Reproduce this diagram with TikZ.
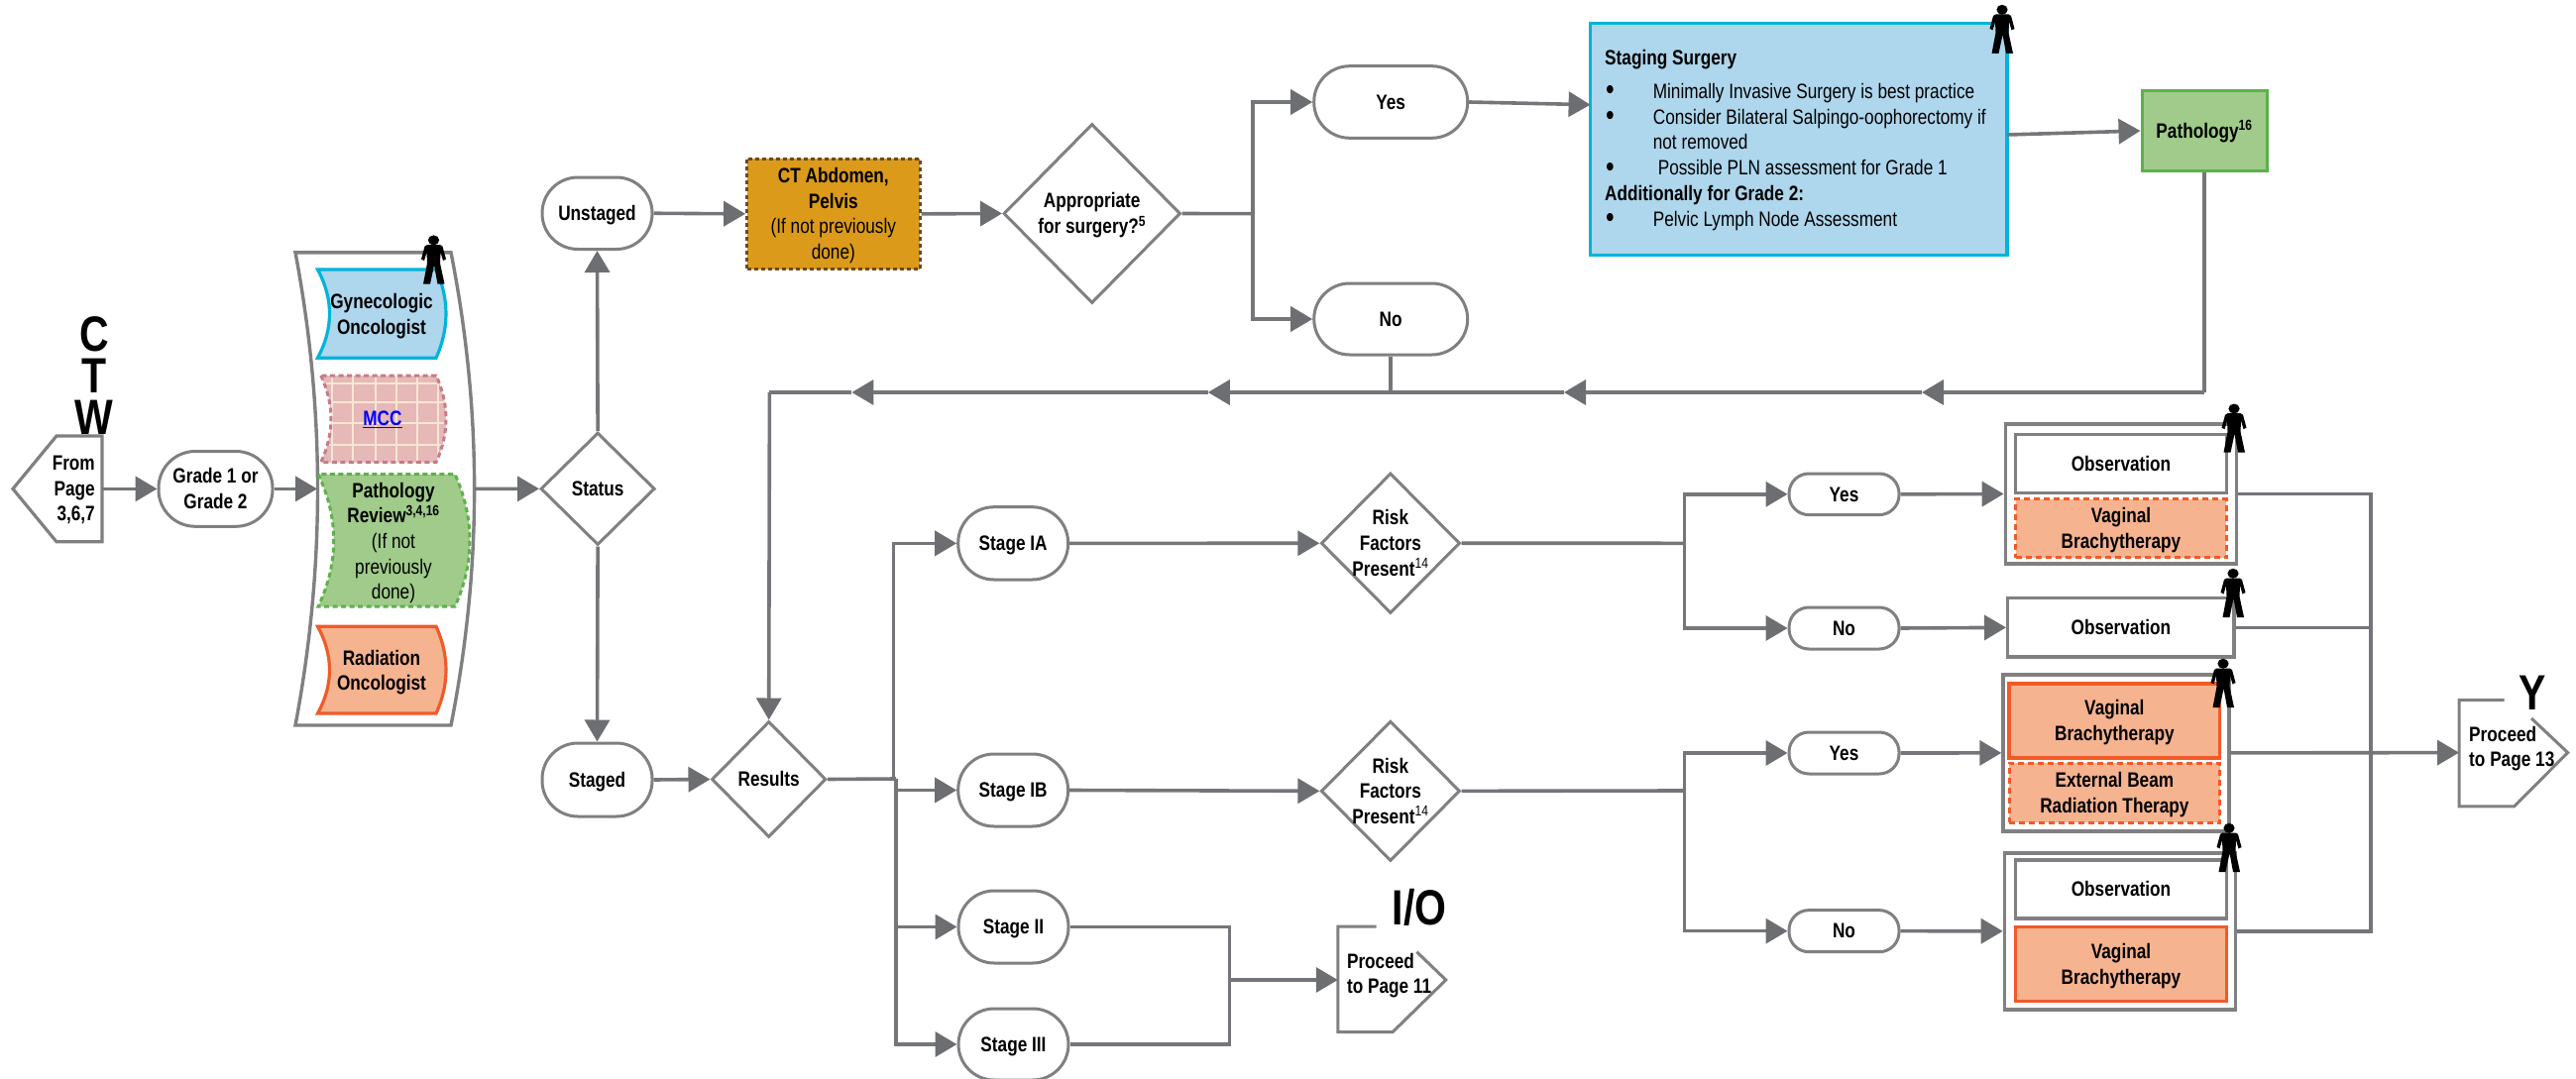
\documentclass[tikz,border=0pt]{standalone}
\usepackage{fontspec}
\setmainfont{Liberation Sans}[FakeStretch=0.82]
\usetikzlibrary{arrows.meta,shapes.geometric}
\definecolor{lineg}{HTML}{75767A}
\definecolor{tipg}{HTML}{6D6E71}
\definecolor{edgeg}{HTML}{808083}
\definecolor{bluef}{HTML}{AED6EC}
\definecolor{blued}{HTML}{00B4DA}
\definecolor{greenf}{HTML}{A0CB8A}
\definecolor{greend}{HTML}{5DB14B}
\definecolor{orangef}{HTML}{F6B38F}
\definecolor{oranged}{HTML}{F15A29}
\definecolor{pinkf}{HTML}{E6B8B7}
\definecolor{pinkd}{HTML}{C77B8A}
\definecolor{creaml}{HTML}{F8E6D4}
\definecolor{ctf}{HTML}{DC9A1B}
\definecolor{ctd}{HTML}{6A4A1F}
\newcommand{\ztext}[1]{\makebox[0pt]{\smash{\raisebox{-0.35em}{\begin{tabular}{@{}c@{}}#1\end{tabular}}}}}
\newcommand{\mkbox}[7]{%
  \pgfmathsetmacro\mkcx{(#3+#5)/2}\pgfmathsetmacro\mkcy{(#4+#6)/2}%
  \pgfmathsetmacro\mkw{#5-#3}\pgfmathsetmacro\mkh{#6-#4}%
  \node[#2,minimum width=\mkw pt,minimum height=\mkh pt] (#1) at (\mkcx,\mkcy) {\ztext{#7}};}
\newcommand{\bul}{\makebox[48.6pt][l]{\hspace*{1pt}{\fontsize{30}{25.8}\selectfont\raisebox{-1.5pt}{•}}}}
\tikzset{
  x=1pt,y=-1pt,
  txt/.style={font=\fontsize{21}{25.6}\selectfont\bfseries,align=center,inner sep=0pt,text=black},
  bigletter/.style={font=\fontsize{50}{41.8}\selectfont\bfseries,align=center,inner sep=0pt,text=black},
  pill/.style={txt,draw=edgeg,fill=white,line width=3pt,rectangle},
  pill36/.style={pill,rounded corners=36pt},
  pill20/.style={pill,rounded corners=20pt},
  dia/.style={txt,draw=edgeg,fill=white,line width=3pt,diamond,aspect=1},
  plain/.style={txt,draw=edgeg,fill=white,line width=3.4pt,rectangle},
  orangesolid/.style={txt,draw=oranged,fill=orangef,line width=3.2pt,rectangle},
  orangedash/.style={txt,draw=oranged,fill=orangef,line width=3pt,rectangle,dash pattern=on 6pt off 4pt},
  conn/.style={draw=lineg,line width=3.6pt},
  arr/.style={conn,-{Triangle[length=22pt,width=25pt,color=tipg]}},
  person/.pic={
    \fill[black] (0,4.8) ellipse [x radius=5.6, y radius=5];
    \fill[black] (-6.5,9.5) -- (6.5,9.5) -- (9,11) -- (12.5,24) -- (9.5,25.5) -- (7,17) -- (6.5,28) -- (11,49) -- (4,49) -- (0.5,30) -- (-3.5,49) -- (-10.5,49) -- (-6.5,28) -- (-7,17) -- (-9.5,25.5) -- (-12.5,24) -- (-9,11) -- cycle;
  }
}
\begin{document}
\begin{tikzpicture}
\useasboundingbox (0,0) rectangle (2599,1089);
% From page
\draw[draw=edgeg,fill=white,line width=3.2pt] (103,440) -- (57,440) -- (13,493.4) -- (57,546.8) -- (103,546.8) -- cycle;
\node[txt,align=right,anchor=east] (fromt) at (96,494.5) {From\\Page\\3,6,7};
\coordinate (fromR) at (103,493.4);
\node[bigletter] (ctw) at (95,379) {C\\T\\W};
\mkbox{grade}{pill,rounded corners=37pt}{160}{455.5}{275}{531.3}{Grade 1 or\\Grade 2}
% Team bracket
\draw[draw=edgeg,fill=white,line width=3.4pt] (298,254.8) .. controls (328,414) and (328,573) .. (298,732) -- (455,732) .. controls (486.5,573) and (486.5,414) .. (455,254.8) -- cycle;
\coordinate (bigL) at (320,493.4);
\coordinate (bigR) at (478.6,493.4);
\draw[draw=blued,fill=bluef,line width=3.2pt] (320.5,272) .. controls (336.5,301.7) and (336.5,331.5) .. (320.5,361.2) -- (440,361.2) .. controls (453.3,331.5) and (453.3,301.7) .. (440,272) -- cycle;
\node[txt] (gyn) at (385,319) {Gynecologic\\Oncologist};
\begin{scope}
\fill[pinkf] (323.7,379) .. controls (337.4,408) and (337.4,437.6) .. (323.7,466.6) -- (440,466.6) .. controls (453.3,437.6) and (453.3,408) .. (440,379) -- cycle;
\clip (323.7,379) .. controls (337.4,408) and (337.4,437.6) .. (323.7,466.6) -- (440,466.6) .. controls (453.3,437.6) and (453.3,408) .. (440,379) -- cycle;
\foreach \gx in {334.8,356,378.6,399.5,421,442} \draw[creaml,line width=2pt] (\gx,370) -- (\gx,475);
\foreach \gy in {386.7,406,427,448.7} \draw[creaml,line width=2pt] (315,\gy) -- (460,\gy);
\end{scope}
\draw[draw=pinkd,line width=3pt,dash pattern=on 5pt off 3.5pt] (323.7,379) .. controls (337.4,408) and (337.4,437.6) .. (323.7,466.6) -- (440,466.6) .. controls (453.3,437.6) and (453.3,408) .. (440,379) -- cycle;
\node[txt,text=blue] (mcc) at (386,423) {\underline{MCC}};
\draw[draw=greend,fill=greenf,line width=3pt,dash pattern=on 5pt off 3.5pt] (321,478.6) .. controls (342,523) and (342,568) .. (321,612.2) -- (459,612.2) .. controls (479,568) and (479,523) .. (459,478.6) -- cycle;
\node[txt] (pathrev) at (397,548) {Pathology\\Review\textsuperscript{3,4,16}\\\mdseries (If not\\\mdseries previously\\\mdseries done)};
\draw[draw=oranged,fill=orangef,line width=3.2pt] (320.5,632.2) .. controls (336.5,661.5) and (336.5,691) .. (320.5,720) -- (440,720) .. controls (453.3,691) and (453.3,661.5) .. (440,632.2) -- cycle;
\node[txt] (rad) at (385,678.5) {Radiation\\Oncologist};
% Status
\mkbox{status}{dia}{545.5}{436.6}{660.7}{550}{Status}
\mkbox{unstaged}{pill36}{547}{179}{658}{251.5}{Unstaged}
\mkbox{staged}{pill36}{547}{750}{658}{824}{Staged}
\mkbox{ct}{txt,draw=ctd,fill=ctf,line width=3pt,rectangle,dash pattern=on 4pt off 3pt}{753.6}{160}{928}{271.7}{CT Abdomen,\\Pelvis\\\mdseries (If not previously\\\mdseries done)}
\mkbox{app}{dia}{1012.5}{125}{1191}{306}{Appropriate\\for surgery?\textsuperscript{5}}
\mkbox{yes}{pill36}{1325.7}{66.7}{1480.7}{139.3}{Yes}
\mkbox{no}{pill36}{1325.7}{286}{1480.7}{358}{No}
\mkbox{staging}{txt,draw=blued,fill=bluef,line width=3.4pt,rectangle}{1604.6}{23.3}{2025}{257.3}{}
\node[txt,align=left,anchor=north west,font=\fontsize{21}{25.8}\selectfont] (stagingt) at (1619,50) {\textbf{Staging Surgery}\\[8pt]
\bul Minimally Invasive Surgery is best practice\\
\bul Consider Bilateral Salpingo-oophorectomy if\\
\makebox[48.6pt]{}not removed\\
\bul\hspace*{5pt}Possible PLN assessment for Grade 1\\
\textbf{Additionally for Grade 2:}\\
\bul Pelvic Lymph Node Assessment};
\coordinate (stagingIn) at (1604.6,105.7);
\coordinate (stagingOut) at (2025,136);
\mkbox{pathology}{txt,draw=greend,fill=greenf,line width=3pt,rectangle}{2161}{91.7}{2287}{172.3}{Pathology\textsuperscript{16}}
% Results side
\mkbox{results}{dia}{718}{728}{833.4}{845}{Results}
\mkbox{stageia}{pill36}{966.7}{511.7}{1077.6}{585}{Stage IA}
\mkbox{stageib}{pill36}{966.7}{761}{1077.6}{834}{Stage IB}
\mkbox{stageii}{pill36}{967}{899}{1078}{972}{Stage II}
\mkbox{stageiii}{pill36}{967}{1018}{1078}{1090}{Stage III}
\mkbox{riska}{dia}{1332.8}{477.5}{1473}{619}{Risk\\Factors\\Present\textsuperscript{\mdseries 14}}
\mkbox{riskb}{dia}{1332.8}{727.7}{1473}{869}{Risk\\Factors\\Present\textsuperscript{\mdseries 14}}
\mkbox{yesa}{pill20}{1805}{478}{1916}{519.6}{Yes}
\mkbox{noa}{pill20}{1805}{613}{1916}{655}{No}
\mkbox{yesb}{pill20}{1805}{739}{1916}{781}{Yes}
\mkbox{nob}{pill20}{1805}{918.6}{1916}{960.7}{No}
% Treatment groups
\mkbox{groupa}{plain}{2023.3}{428}{2256.3}{569}{}
\mkbox{obsa}{plain}{2033.6}{438.4}{2246.4}{497.6}{Observation}
\mkbox{vba}{orangedash}{2033.6}{503.7}{2246.4}{562.9}{Vaginal\\Brachytherapy}
\mkbox{obsb}{plain}{2025.7}{603.7}{2254}{662.9}{Observation}
\mkbox{groupb}{plain}{2021}{681}{2248.8}{838.8}{}
\mkbox{vbb}{orangesolid}{2027}{690}{2239.7}{765}{Vaginal\\Brachytherapy}
\mkbox{ebrt}{orangedash}{2027}{770}{2239.7}{830}{External Beam\\Radiation Therapy}
\mkbox{groupc}{plain}{2022.4}{860.8}{2255.5}{1018.8}{}
\mkbox{obsc}{plain}{2033.6}{867.8}{2246.4}{927}{Observation}
\mkbox{vbc}{orangesolid}{2033.6}{935.5}{2246.4}{1010.6}{Vaginal\\Brachytherapy}
% Off-page
\draw[draw=edgeg,fill=white,line width=3pt] (1388.6,935) -- (1349.8,935) -- (1349.8,1041.7) -- (1405,1041.7) -- (1458.8,989) -- (1429.4,960.7);
\coordinate (ioL) at (1349.8,989);
\node[txt,align=left,anchor=west] (iot) at (1358.8,984.5) {Proceed\\to Page 11};
\node[bigletter] (iol) at (1432,916) {I/O};
\draw[draw=edgeg,fill=white,line width=3pt] (2526.6,706.5) -- (2481,706.5) -- (2481,813.9) -- (2536.5,813.9) -- (2590.7,759.6) -- (2554,725);
\coordinate (yL) at (2481,759.6);
\node[txt,align=left,anchor=west] (yt) at (2491,755.5) {Proceed\\to Page 13};
\node[bigletter] (yl) at (2555,699) {Y};
% Connectors
\draw[arr] (fromR) -- (grade.west);
\draw[arr] (grade.east) -- (bigL);
\draw[arr] (bigR) -- (status.west);
\draw[arr] (status.north) -- (unstaged.south);
\draw[arr] (status.south) -- (staged.north);
\draw[arr] (unstaged.east) -- (ct.west);
\draw[arr] (ct.east) -- (app.west);
\coordinate (jt) at (1263.8,215.7);
\draw[conn] (app.east) -- (jt);
\draw[arr] (jt) |- (yes.west);
\draw[arr] (jt) |- (no.west);
\draw[arr] (yes.east) -- (stagingIn);
\draw[arr] (stagingOut) -- (pathology.west);
\coordinate (r0) at (2224,396);
\coordinate (r1) at (1939,396);
\coordinate (r2) at (1578,396);
\coordinate (r3) at (1218.8,396);
\coordinate (r4) at (859.4,396);
\coordinate (r5) at (776.4,396);
\draw[conn] (pathology.south) -- (r0);
\draw[arr] (r0) -- (r1);
\draw[arr] (r1) -- (r2);
\draw[arr] (r2) -- (r3);
\draw[arr] (r3) -- (r4);
\draw[conn] (r4) -- (r5);
\draw[arr] (r5) -- (results.north);
\draw[conn] (no.south) -- (no.south |- r0);
\draw[arr] (staged.east) -- (results.west);
\coordinate (ja) at (901.4,786);
\coordinate (jb) at (904,786);
\draw[conn] (results.east) -- (jb);
\draw[arr] (ja) |- (stageia.west);
\draw[arr] (jb) |- (stageib.west);
\draw[arr] (jb) |- (stageii.west);
\draw[arr] (jb) |- (stageiii.west);
\draw[arr] (stageia.east) -- (riska.west);
\draw[arr] (stageib.east) -- (riskb.west);
\coordinate (jc) at (1240.4,989);
\draw[conn] (stageii.east) -| (jc);
\draw[conn] (stageiii.east) -| (jc);
\draw[arr] (jc) -- (ioL);
\coordinate (jd) at (1699.5,548.3);
\coordinate (je) at (1699.5,798);
\draw[conn] (riska.east) -- (jd);
\draw[conn] (riskb.east) -- (je);
\draw[arr] (jd) |- (yesa.west);
\draw[arr] (jd) |- (noa.west);
\draw[arr] (je) |- (yesb.west);
\draw[arr] (je) |- (nob.west);
\draw[arr] (yesa.east) -- (groupa.west);
\draw[arr] (noa.east) -- (obsb.west);
\draw[arr] (yesb.east) -- (groupb.west);
\draw[arr] (nob.east) -- (groupc.west);
\coordinate (jf) at (2392,759.6);
\draw[conn] (groupa.east) -| (jf);
\draw[conn] (groupc.east) -| (jf);
\draw[conn] (obsb.east) -- (obsb.east -| jf);
\draw[arr] (groupb.east) -- (yL);
% People
\pic at (437.5,237.6) {person};
\pic at (2020,5) {person};
\pic at (2254,407.7) {person};
\pic at (2253,574) {person};
\pic at (2243,665) {person};
\pic at (2249,831) {person};
\end{tikzpicture}
\end{document}
